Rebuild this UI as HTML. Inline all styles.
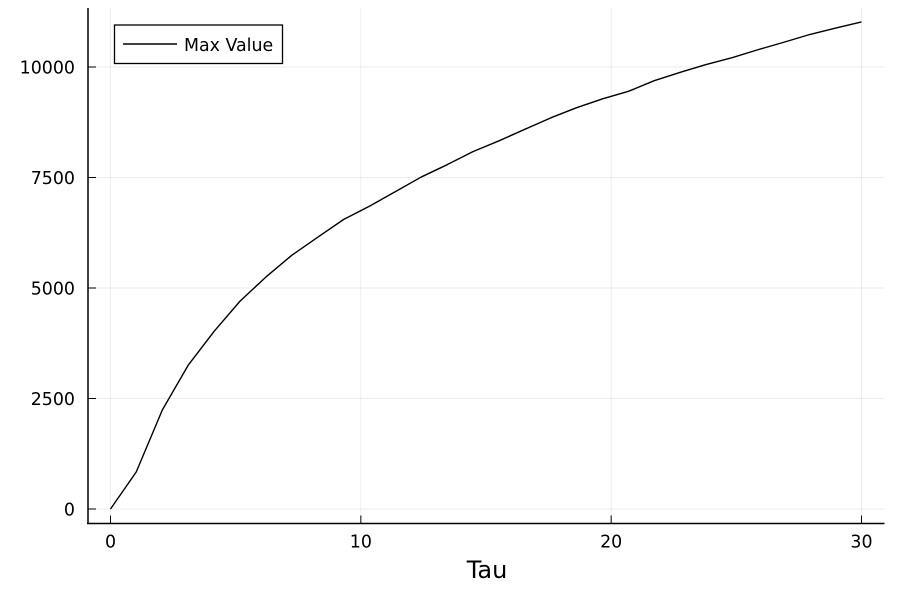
<!DOCTYPE html>
<html>
<head>
<meta charset="utf-8">
<style>
html,body{margin:0;padding:0;background:#fff;width:901px;height:593px;overflow:hidden}
svg{display:block}
text{font-family:"DejaVu Sans","Liberation Sans",sans-serif;fill:#000}
</style>
</head>
<body>
<svg id="chart" width="901" height="593" viewBox="0 0 901 593" xmlns="http://www.w3.org/2000/svg"></svg>
<script>
const tauValues = [0,1.03,2.07,3.1,4.14,5.17,6.21,7.24,8.28,9.31,10.34,11.38,12.41,13.45,14.48,15.52,16.55,17.59,18.62,19.66,20.69,21.72,22.76,23.79,24.83,25.86,26.9,27.93,28.97,30];
const maxValues = [0,840,2240,3250,4020,4700,5250,5740,6150,6550,6850,7180,7510,7790,8085,8330,8590,8850,9080,9280,9450,9690,9880,10055,10210,10390,10560,10735,10880,11020];
const xTicks = [0,10,20,30];
const yTicks = [0,2500,5000,7500,10000];
const xAxisTitle = 'Tau';
const legendLabel = 'Max Value';

const NS = 'http://www.w3.org/2000/svg';
const svg = document.getElementById('chart');
const xScale = v => 110.5 + v * (861.5 - 110.5) / 30;
const yScale = v => 509 - v * (509 - 67) / 10000;
const plotLeft = 88, plotRight = 884.5, plotTop = 8, plotBottom = 523.5;

function make(tag, attrs, parent) {
  const el = document.createElementNS(NS, tag);
  Object.keys(attrs).forEach(k => el.setAttribute(k, attrs[k]));
  (parent || svg).appendChild(el);
  return el;
}

xTicks.forEach(t => {
  const grid = make('line', {x1: xScale(t), x2: xScale(t), y1: plotTop, y2: plotBottom, stroke: '#000', 'stroke-opacity': 0.07, 'stroke-width': 1});
  
  
});
yTicks.forEach(t => {
  const grid = make('line', {x1: plotLeft, x2: plotRight, y1: yScale(t), y2: yScale(t), stroke: '#000', 'stroke-opacity': 0.07, 'stroke-width': 1});
  
  
});

const xAxis = make('line', {x1: plotLeft - 1, x2: plotRight, y1: plotBottom, y2: plotBottom, stroke: '#000', 'stroke-width': 1.5});


const yAxis = make('line', {x1: plotLeft, x2: plotLeft, y1: plotTop, y2: plotBottom, stroke: '#000', 'stroke-width': 1.5});



xTicks.forEach(t => {
  const tick = make('line', {x1: xScale(t), x2: xScale(t), y1: plotBottom, y2: plotBottom - 8, stroke: '#000', 'stroke-width': 1});
  
  
  const label = make('text', {x: xScale(t), y: 547.5, 'text-anchor': 'middle', 'font-size': 17.4});
  
  
  label.textContent = t;
});
yTicks.forEach(t => {
  const tick = make('line', {x1: plotLeft, x2: plotLeft + 8, y1: yScale(t), y2: yScale(t), stroke: '#000', 'stroke-width': 1});
  
  
  const label = make('text', {x: 75, y: yScale(t) + 6.5, 'text-anchor': 'end', 'font-size': 17.4});
  
  
  label.textContent = t;
});

const series = make('polyline', {
  points: tauValues.map((v, i) => xScale(v) + ',' + yScale(maxValues[i])).join(' '),
  fill: 'none', stroke: '#000', 'stroke-width': 1.4, 'stroke-linejoin': 'round'
});



const title = make('text', {x: 487, y: 578, 'text-anchor': 'middle', 'font-size': 24});


title.textContent = xAxisTitle;

const legend = make('g', {});


const legendBox = make('rect', {x: 114.5, y: 25, width: 168, height: 38.5, fill: '#fff', stroke: '#000', 'stroke-width': 1.3}, legend);


const legendLine = make('line', {x1: 123, x2: 177, y1: 44, y2: 44, stroke: '#000', 'stroke-width': 1.4}, legend);


const legendText = make('text', {x: 184, y: 51, 'font-size': 17.4}, legend);


legendText.textContent = legendLabel;
</script>
</body>
</html>
